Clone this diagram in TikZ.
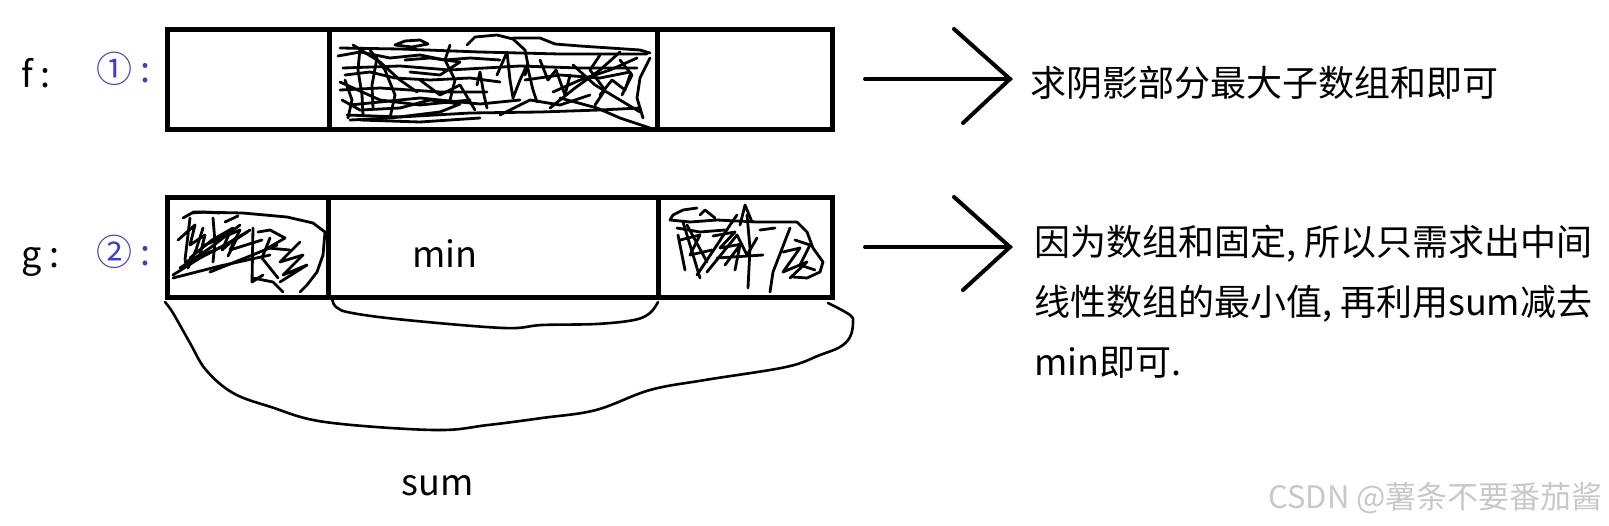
\documentclass[tikz,border=0pt]{standalone}
\usepackage{fontspec}
\setmainfont{Noto Sans CJK SC}
\definecolor{circblue}{RGB}{60,60,205}
\definecolor{wmgray}{RGB}{200,200,200}
\tikzset{
  cell/.style={draw, line width=5pt, inner sep=0pt, outer sep=0pt, anchor=north west, minimum height=100pt},
  scrib/.style={line width=2.8pt, line cap=round, line join=round},
  curve/.style={line width=2.6pt, line cap=round, line join=round},
  arrowline/.style={line width=4pt, line cap=round, line join=miter},
  lbl/.style={inner sep=0pt, font=\fontsize{36}{43}\selectfont},
  blbl/.style={lbl, text=circblue},
  note/.style={inner sep=0pt, align=left, font=\fontsize{36}{60}\selectfont},
}
\begin{document}
\begin{tikzpicture}[x=1pt,y=-1pt]
\useasboundingbox (0,0) rectangle (1609,525);

% row f
\node[lbl, anchor=base west] (flab) at (21,87) {f :};
\node[blbl, anchor=base west] (fnum) at (96,82) {① :};
\node[cell, minimum width=162pt] (a1) at (167,29) {};
\node[cell, minimum width=328pt] (a2) at (329,29) {};
\node[cell, minimum width=175pt] (a3) at (657,29) {};

% row g
\node[lbl, anchor=base west] (glab) at (21,267) {g :};
\node[blbl, anchor=base west] (gnum) at (96,265) {② :};
\node[cell, minimum width=161pt] (b1) at (167,197) {};
\node[cell, minimum width=330pt] (b2) at (328,197) {};
\node[cell, minimum width=174pt] (b3) at (658,197) {};
\node[lbl, anchor=base] (minlab) at (445,267) {min};
\node[lbl, anchor=base] (sumlab) at (438,495) {sum};

% scribble in a2
\draw[scrib] (467,45) -- (475,37) -- (497,35) -- (513,39) -- (525,50) -- (528,65) -- (525,75);
\draw[scrib] (513,38) -- (540,38) -- (555,44) -- (580,46) -- (610,48) -- (640,50) -- (650,53);
\draw[scrib] (340,48) -- (400,49) -- (480,52) -- (560,54) -- (647,54);
\draw[scrib] (343,68) -- (400,66) -- (450,70) -- (520,66) -- (580,68) -- (637,68);
\draw[scrib] (340,90) -- (380,88) -- (440,92) -- (487,92);
\draw[scrib] (347,115) -- (400,117) -- (470,113) -- (540,112) -- (600,110) -- (640,108);
\draw[scrib] (360,48) -- (358,70) -- (362,95) -- (363,115);
\draw[scrib] (377,58) -- (372,85) -- (373,108);
\draw[scrib] (353,45) -- (380,62) -- (400,80) -- (417,92);
\draw[scrib] (395,45) -- (405,41) -- (420,40) -- (428,44) -- (412,47) -- (395,45);
\draw[scrib] (342,100) -- (360,110) -- (400,108) -- (430,100) -- (460,104) -- (440,112) -- (390,118) -- (350,120);
\draw[scrib] (477,85) -- (480,72) -- (484,95) -- (487,108);
\draw[scrib] (497,75) -- (507,52) -- (510,80) -- (513,98) -- (520,80) -- (527,65) -- (533,90) -- (537,102);
\draw[scrib] (550,108) -- (575,88) -- (600,70) -- (620,52);
\draw[scrib] (573,65) -- (595,85) -- (620,100) -- (640,112);
\draw[scrib] (553,92) -- (580,80) -- (610,70) -- (637,58);
\draw[scrib] (650,58) -- (640,78) -- (637,98) -- (643,118);
\draw[scrib] (560,98) -- (597,108) -- (620,118) -- (650,128);
\draw[scrib] (405,60) -- (430,58) -- (460,62) -- (440,75) -- (410,72);
\draw[scrib] (345,80) -- (352,100) -- (348,118);
\draw[scrib] (540,60) -- (548,80) -- (556,70) -- (565,95) -- (570,75);
\draw[scrib] (600,95) -- (612,80) -- (625,90) -- (630,75);
\draw[scrib] (338,56) -- (360,52) -- (390,58) -- (420,55) -- (445,60) -- (470,58) -- (500,60);
\draw[scrib] (345,75) -- (370,72) -- (395,78) -- (430,80) -- (470,78) -- (500,82);
\draw[scrib] (340,82) -- (380,100) -- (420,105) -- (470,100);
\draw[scrib] (350,105) -- (420,98) -- (480,104) -- (520,100);
\draw[scrib] (420,80) -- (440,95) -- (460,85) -- (475,110);
\draw[scrib] (450,45) -- (445,60) -- (455,80) -- (450,100);
\draw[scrib] (600,55) -- (590,70) -- (605,90) -- (595,105);
\draw[scrib] (525,80) -- (560,75) -- (600,78) -- (630,72);
\draw[scrib] (500,115) -- (530,100) -- (560,105) -- (590,95);
\draw[scrib] (360,120) -- (420,122) -- (480,118);
\draw[scrib] (620,60) -- (632,75) -- (622,95);
\draw[scrib] (370,50) -- (385,70) -- (395,95) -- (390,118);

% scribble in b1
\draw[scrib] (183,218) -- (192,213) -- (203,212) -- (220,213);
\draw[scrib] (193,212) -- (243,213) -- (287,217) -- (313,223) -- (325,232) -- (323,255) -- (317,272) -- (307,285) -- (300,292);
\draw[scrib] (213,218) -- (215,242) -- (213,262);
\draw[scrib] (173,275) -- (200,258) -- (225,245) -- (247,232);
\draw[scrib] (180,268) -- (210,248) -- (240,225);
\draw[scrib] (190,258) -- (212,240) -- (233,228);
\draw[scrib] (203,228) -- (196,250) -- (188,268);
\draw[scrib] (173,278) -- (220,266) -- (270,255);
\draw[scrib] (210,272) -- (245,258) -- (277,245);
\draw[scrib] (218,240) -- (230,232) -- (222,250) -- (238,236) -- (228,256);
\draw[scrib] (253,228) -- (252,282) -- (263,275);
\draw[scrib] (270,238) -- (262,258) -- (278,278);
\draw[scrib] (300,242) -- (280,262) -- (303,255) -- (283,275) -- (307,265) -- (280,282);
\draw[scrib] (253,278) -- (273,282) -- (283,292);
\draw[scrib] (178,240) -- (195,225) -- (190,245) -- (205,235) -- (200,255);
\draw[scrib] (185,262) -- (215,250) -- (235,240) -- (250,230);
\draw[scrib] (205,245) -- (240,230) -- (230,250) -- (262,240);
\draw[scrib] (190,218) -- (185,260);
\draw[scrib] (258,232) -- (270,230) -- (285,238) -- (268,248) -- (290,250);
\draw[scrib] (225,222) -- (238,216);

% scribble in b3
\draw[scrib] (670,220) -- (673,215) -- (683,210) -- (697,208);
\draw[scrib] (670,220) -- (690,222) -- (717,220) -- (757,222) -- (797,222);
\draw[scrib] (797,222) -- (807,232) -- (813,248) -- (823,262) -- (820,272) -- (807,278) -- (793,277);
\draw[scrib] (683,222) -- (690,245) -- (697,268) -- (700,278);
\draw[scrib] (687,225) -- (707,262);
\draw[scrib] (697,275) -- (717,245) -- (730,225) -- (737,215);
\draw[scrib] (707,272) -- (737,235) -- (747,255) -- (757,238);
\draw[scrib] (747,215) -- (750,248) -- (748,288);
\draw[scrib] (717,258) -- (763,255);
\draw[scrib] (713,236) -- (735,232) -- (720,248) -- (742,244);
\draw[scrib] (790,228) -- (773,272) -- (770,292);
\draw[scrib] (783,252) -- (800,248) -- (783,272) -- (807,262) -- (790,278);
\draw[scrib] (677,228) -- (700,232) -- (725,230);
\draw[scrib] (680,240) -- (700,235) -- (690,255) -- (712,250);
\draw[scrib] (725,265) -- (740,245) -- (735,270);
\draw[scrib] (760,230) -- (775,228);
\draw[scrib] (795,240) -- (810,245) -- (800,265) -- (815,270);
\draw[scrib] (678,235) -- (685,270);
\draw[scrib] (700,215) -- (705,210) -- (715,218);
\draw[scrib] (740,225) -- (745,205) -- (752,222);

% braces
\draw[curve] plot[smooth, tension=0.6] coordinates {(332,298) (336,307) (352,313) (406,320) (504,328) (542,325) (596,324) (634,320) (650,313) (658,302)};
\draw[curve] plot[smooth, tension=0.6] coordinates {(165,302) (173,313) (190,343) (206,370) (233,393) (271,407) (325,422) (434,430) (488,425) (542,418) (596,410) (650,390) (705,380) (786,367) (820,355) (840,347) (850,337) (853,323) (850,315) (828,303)};

% arrows
\coordinate (s1) at (865,79);
\coordinate (e1) at (1010,79);
\coordinate (u1) at (954,29);
\coordinate (d1) at (963,123);
\draw[arrowline] (s1) -- (e1);
\draw[arrowline] (u1) -- (e1) -- (d1);
\coordinate (s2) at (865,247);
\coordinate (e2) at (1010,247);
\coordinate (u2) at (954,197);
\coordinate (d2) at (963,290);
\draw[arrowline] (s2) -- (e2);
\draw[arrowline] (u2) -- (e2) -- (d2);

% notes
\node[note, anchor=base west] (n1) at (1030,96) {求阴影部分最大子数组和即可};
\node[note, anchor=base west] (n2a) at (1034,255) {因为数组和固定, 所以只需求出中间};
\node[note, anchor=base west] (n2b) at (1034,315) {线性数组的最小值, 再利用sum减去};
\node[note, anchor=base west] (n2c) at (1034,375) {min即可.};

% watermark
\node[inner sep=0pt, anchor=base east, text=wmgray, font=\fontsize{31}{36}\selectfont] (wm) at (1603,508) {CSDN @薯条不要番茄酱};
\end{tikzpicture}
\end{document}
